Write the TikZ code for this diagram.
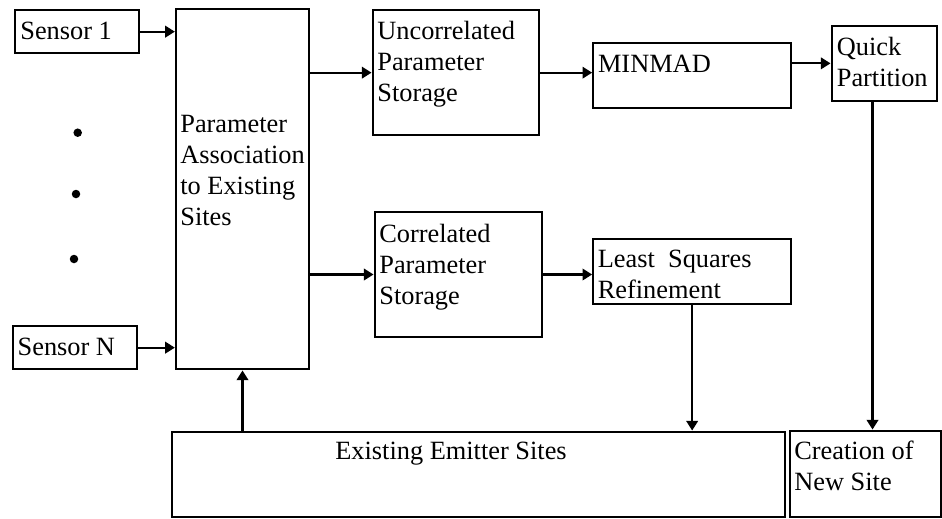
\documentclass[tikz,border=0pt]{standalone}
\usepackage{fontspec}
\setmainfont{Liberation Serif}
\usetikzlibrary{fit,arrows.meta}

\begin{document}
\begin{tikzpicture}[x=0.02cm,y=-0.02cm,
  box/.style={draw,line width=1.3pt,inner sep=0pt},
  txt/.style={anchor=north west,inner sep=0pt,align=left,font=\fontsize{15}{17.6}\selectfont},
  arr/.style={line width=1.3pt,-{Triangle[length=5.5pt,width=6.5pt]}},
  dot/.style={circle,fill,inner sep=0pt,minimum size=0.17cm}]
  \useasboundingbox (0,0) rectangle (942,518);
  % boxes (pixel frame, y downwards)
  \node[box,fit={(14.7,10) (139.3,53.3)}] (s1) {};
  \node[box,fit={(12.7,326) (137.3,369.3)}] (sn) {};
  \node[box,fit={(176,9.3) (309,369.3)}] (pa) {};
  \node[box,fit={(372.7,10) (539.3,135.3)}] (unc) {};
  \node[box,fit={(374.7,212.3) (541.7,336.7)}] (cor) {};
  \node[box,fit={(593.3,43.3) (790.7,108.3)}] (mm) {};
  \node[box,fit={(593.3,239.3) (791,304.3)}] (ls) {};
  \node[box,fit={(831.7,25.7) (937.3,101)}] (qp) {};
  \node[box,fit={(171.7,431.7) (785.3,516.7)}] (ees) {};
  \node[box,fit={(790,430.7) (941,516.7)}] (cns) {};
  % texts
  \node[txt] (s1-t) at (20,21.3) {Sensor 1};
  \node[txt] (sn-t) at (17.3,337.7) {Sensor N};
  \node[txt] (pa-t) at (180,114.7) {Parameter\\Association\\to Existing\\Sites};
  \node[txt] (unc-t) at (377,21.3) {Uncorrelated\\Parameter\\Storage};
  \node[txt] (cor-t) at (379,223.7) {Correlated\\Parameter\\Storage};
  \node[txt] (mm-t) at (597.7,54.7) {MINMAD};
  \node[txt] (ls-t) at (597.5,249.3) {Least\ \ Squares\\Refinement};
  \node[txt] (qp-t) at (836.5,37) {Quick\\Partition};
  \node[txt] (ees-t) at (335,442) {Existing Emitter Sites};
  \node[txt] (cns-t) at (794,441) {Creation of\\New Site};
  % dots between the sensors
  \node[dot] (d1) at (77.7,132.7) {};
  \node[dot] (d2) at (76,194) {};
  \node[dot] (d3) at (74,259) {};
  % arrows
  \draw[arr] (s1.east) -- (s1.east -| pa.west);
  \draw[arr] (sn.east) -- (sn.east -| pa.west);
  \draw[arr] (pa.east |- unc.west) -- (unc.west);
  \draw[arr] (pa.east |- cor.west) -- (cor.west);
  \draw[arr] (unc.east) -- (unc.east -| mm.west);
  \draw[arr] (cor.east) -- (cor.east -| ls.west);
  \draw[arr] (mm.east |- qp.west) -- (qp.west);
  \coordinate (qp-d) at ([xshift=-0.24cm]qp.south);
  \draw[arr] (qp-d) -- (qp-d |- cns.north);
  \draw[arr] (ls.south) -- (ls.south |- ees.north);
  \draw[arr] (ees.north -| pa.south) -- (pa.south);
\end{tikzpicture}
\end{document}
